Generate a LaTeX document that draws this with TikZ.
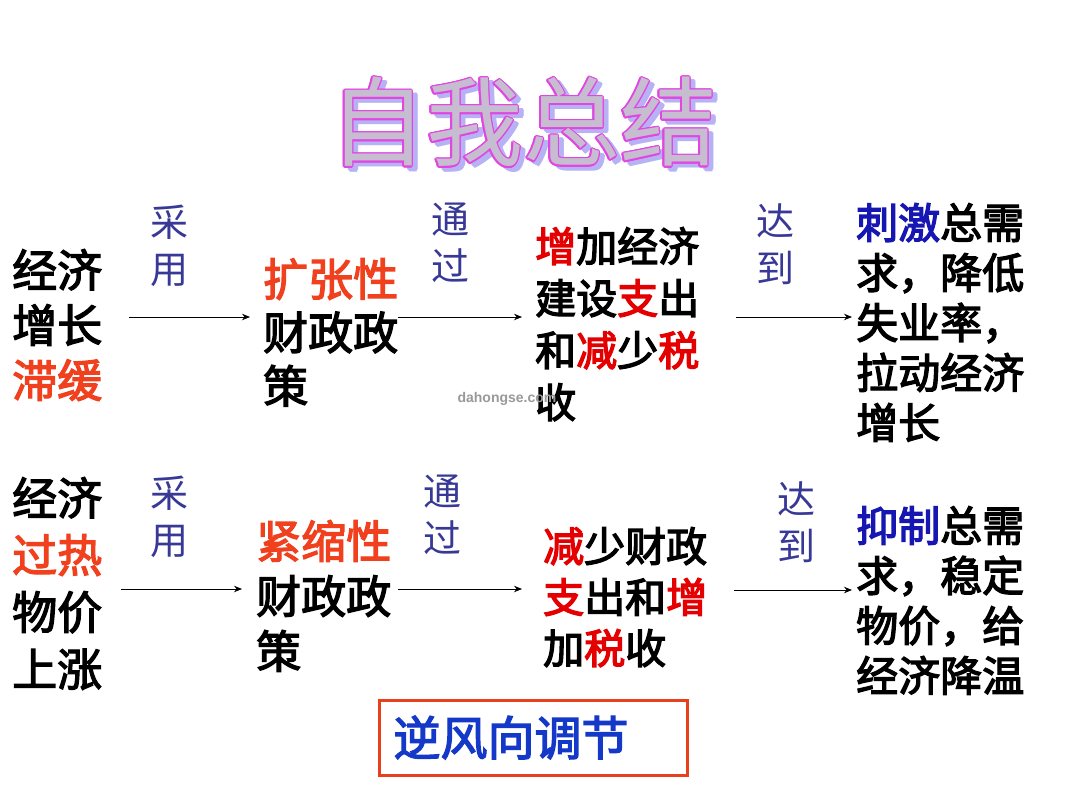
\documentclass[tikz,border=0pt]{standalone}
\usepackage{fontspec}
\newfontfamily\cjk{Noto Sans CJK SC}
\newfontfamily\wmfont{Liberation Sans}
\usetikzlibrary{arrows.meta,calc}
\definecolor{orred}{RGB}{240,64,30}
\definecolor{hotred}{RGB}{228,0,0}
\definecolor{deepblue}{RGB}{22,22,178}
\definecolor{navy}{RGB}{56,56,150}
\definecolor{boxblue}{RGB}{20,56,200}
\definecolor{boxline}{RGB}{232,64,28}
\definecolor{tshadow}{RGB}{182,178,244}
\definecolor{tline}{RGB}{226,70,226}
\definecolor{tfill}{RGB}{198,190,208}
\newcommand\orc[1]{\textcolor{orred}{#1}}
\newcommand\rdc[1]{\textcolor{hotred}{#1}}
\newcommand\blc[1]{\textcolor{deepblue}{#1}}
\newcommand\heavyon{\special{pdf:literal direct 2 Tr 1.3 w}}
\newcommand\heavyoff{\special{pdf:literal direct 0 Tr}}
\tikzset{
  txt/.style 2 args={anchor=north west, inner sep=0pt, align=left,
    font=\cjk\fontsize{#1}{#2}\selectfont\heavyon,
    execute at end node=\heavyoff},
  lbl/.style={anchor=north west, inner sep=0pt, align=left, text=navy,
    font=\cjk\fontsize{38}{47}\selectfont},
  arr/.style={draw=black, line width=0.9pt, -{Stealth[length=8pt,width=6.5pt]}},
  ttl/.style={inner sep=0pt, font=\cjk\fontsize{97}{97}\selectfont},
  box/.style={draw=boxline, line width=3pt, anchor=west, minimum height=75pt,
    text width=280pt, inner xsep=14pt, align=left, text=boxblue,
    font=\cjk\fontsize{47}{47}\selectfont\heavyon,
    execute at end node=\heavyoff}
}
\begin{document}
\begin{tikzpicture}[x=1pt,y=-1pt]
\useasboundingbox[fill=white] (0,0) rectangle (1080,810);
% title
\coordinate (tc) at (523,122);
\coordinate (tsc) at (528,126);
\foreach \a [count=\i] in {0,45,...,315}
  \node[ttl, text=tshadow] (ts\i) at ([shift={(\a:1.2pt)}]tsc) {自我总结};
\foreach \a [count=\i] in {0,30,...,330}
  \node[ttl, text=tline] (to\i) at ([shift={(\a:1.4pt)}]tc) {自我总结};
\node[ttl, text=tfill] (title) at (tc) {自我总结};
% row coordinates
\coordinate (y1) at (0,317);
\coordinate (y2) at (0,589);
\coordinate (y3) at (0,590);
% row 1
\node[txt={45}{55}] (l1) at (12,249) {经济\\增长\\\orc{滞缓}};
\node[lbl] (u1) at (150,205) {采\\用};
\node[txt={45}{53.5}] (m1) at (263,258) {\orc{扩张性}\\财政政\\策};
\node[lbl] (v1) at (431,203) {通\\过};
\node[txt={41}{52}] (c1) at (535,227) {\rdc{增}加经济\\建设\rdc{支}出\\和\rdc{减}少\rdc{税}\\收};
\node[lbl] (w1) at (756,203) {达\\到};
\node[txt={42}{50}] (r1) at (856,203) {\blc{刺激}总需\\求，降低\\失业率，\\拉动经济\\增长};
\draw[arr, shorten <=27pt, shorten >=13pt] (l1.east |- y1) -- (m1.west |- y1);
\draw[arr, shorten <=0pt, shorten >=13pt] (m1.east |- y1) -- (c1.west |- y1);
\draw[arr, shorten <=37pt, shorten >=4pt] (c1.east |- y1) -- (r1.west |- y1);
% watermark
\node[inner sep=0pt, text=gray!80, font=\wmfont\bfseries\fontsize{14}{14}\selectfont] (wm) at (507,399) {dahongse.com};
% row 2
\node[txt={45}{57}] (l2) at (12,477) {经济\\\orc{过热}\\物价\\上涨};
\node[lbl] (u2) at (150,476) {采\\用};
\node[txt={45}{55}] (m2) at (256,520) {\orc{紧缩性}\\财政政\\策};
\node[lbl] (v2) at (423,475) {通\\过};
\node[txt={41}{51}] (c2) at (543,527) {\rdc{减}少财政\\\rdc{支}出和\rdc{增}\\加\rdc{税}收};
\node[lbl] (w2) at (777,481) {达\\到};
\node[txt={42}{50}] (r2) at (856,506) {\blc{抑制}总需\\求，稳定\\物价，给\\经济降温};
\draw[arr, shorten <=19pt, shorten >=14pt] (l2.east |- y2) -- (m2.west |- y2);
\draw[arr, shorten <=7pt, shorten >=21pt] (m2.east |- y2) -- (c2.west |- y2);
\draw[arr, shorten <=27pt, shorten >=4pt] (c2.east |- y3) -- (r2.west |- y3);
% box
\node[box] (nb) at (378,737.5) {逆风向调节};
\end{tikzpicture}
\end{document}
